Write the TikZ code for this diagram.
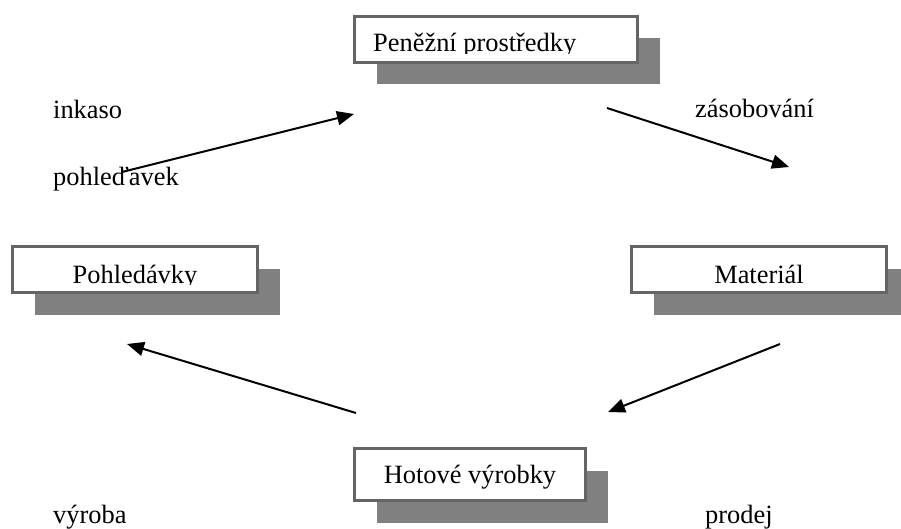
\documentclass[tikz,border=0pt]{standalone}
\usepackage{fontspec}
\setmainfont{Liberation Serif}
\usetikzlibrary{arrows.meta,shadows}
\definecolor{boxline}{HTML}{656565}
\definecolor{shadowgray}{HTML}{808080}
\begin{document}
\begin{tikzpicture}[x=1pt,y=-1pt,
  box/.style={draw=boxline, line width=3pt, fill=white, inner sep=0pt,
    general shadow={fill=shadowgray, shadow xshift=22pt, shadow yshift=-22pt}},
  txt/.style={inner sep=0pt, font=\fontsize{26.4}{30}\selectfont},
  lbl/.style={txt, anchor=base west},
  flow/.style={line width=2pt, -{Triangle[length=17pt,width=14pt]}}]
\useasboundingbox (0,0) rectangle (901,529);

% boxes with drop shadows
\begin{scope}
\clip (0,0) rectangle (901,529);
\node[box, minimum width=283pt, minimum height=46pt] (penize) at (496,39.5) {};
\node[box, minimum width=245pt, minimum height=46pt] (pohl) at (135,269.5) {};
\node[box, minimum width=255pt, minimum height=46pt] (mat) at (759,269.5) {};
\node[box, minimum width=231pt, minimum height=52pt] (hot) at (470,474.5) {};
\end{scope}

% box captions (descenders cut off by the text frame)
\begin{scope}
\clip (354,16) rectangle (638,53.5);
\node[lbl] (tpenize) at (373,52) {Peněžní prostředky};
\end{scope}
\begin{scope}
\clip (12,246) rectangle (258,284.3);
\node[txt, anchor=base] (tpohl) at (135,283) {Pohledávky};
\end{scope}
\node[txt, anchor=base] (tmat) at (759,283) {Materiál};
\node[txt, anchor=base] (thot) at (470,483) {Hotové výrobky};

% free-standing labels
\node[lbl] (inkaso) at (53,119) {inkaso};
\node[lbl] (pohlbl) at (53,186) {pohleďavek};
\node[lbl] (zasob) at (695,118) {zásobování};
\node[lbl] (vyroba) at (53,523) {výroba};
\node[lbl] (prodej) at (705,523) {prodej};

% arrow end points
\coordinate (a1s) at (122,172); \coordinate (a1e) at (354,114);
\coordinate (a2s) at (607,108); \coordinate (a2e) at (789,167);
\coordinate (a3s) at (780,344); \coordinate (a3e) at (608,412);
\coordinate (a4s) at (356,413); \coordinate (a4e) at (127,344);

\draw[flow] (a1s) -- (a1e);
\draw[flow] (a2s) -- (a2e);
\draw[flow] (a3s) -- (a3e);
\draw[flow] (a4s) -- (a4e);
\end{tikzpicture}
\end{document}
